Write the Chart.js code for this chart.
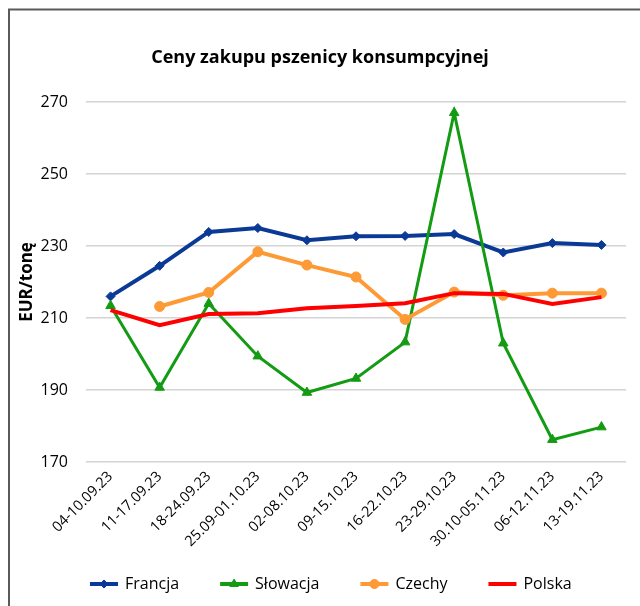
<!DOCTYPE html>
<html>
<head>
<meta charset="utf-8">
<script src="https://cdn.jsdelivr.net/npm/chart.js@4/dist/chart.umd.min.js"></script>
<style>
  html, body { margin: 0; padding: 0; background: #ffffff; }
  #wrap { position: relative; width: 640px; height: 606px; }
</style>
</head>
<body>
<div id="wrap"><canvas id="c" width="640" height="606"></canvas></div>
<script>
const chartTitle = 'Ceny zakupu pszenicy konsumpcyjnej';
const yAxisTitle = 'EUR/tonę';
const categories = ['04-10.09.23', '11-17.09.23', '18-24.09.23', '25.09-01.10.23', '02-08.10.23', '09-15.10.23', '16-22.10.23', '23-29.10.23', '30.10-05.11.23', '06-12.11.23', '13-19.11.23'];
const seriesNames = ['Francja', 'Słowacja', 'Czechy', 'Polska'];
const francja = [216.0, 224.5, 233.9, 235.0, 231.6, 232.7, 232.8, 233.3, 228.2, 230.8, 230.3];
const slowacja = [213.4, 190.7, 214.0, 199.4, 189.3, 193.2, 203.3, 267.0, 203.0, 176.2, 179.7];
const czechy = [null, 213.2, 217.1, 228.4, 224.7, 221.4, 209.6, 217.2, 216.3, 216.9, 216.9];
const polska = [212.2, 208.0, 211.1, 211.3, 212.7, 213.3, 214.1, 216.9, 216.7, 213.9, 215.8];
const yMin = 170, yMax = 270, yStep = 20;

const colors = ['#0b3a96', '#139b13', '#fd9a35', '#fe0000'];
const pointStyles = ['rectRot', 'triangle', 'circle', false];
const pointSizes = [4.5, 5.5, 5, 0];
const FONT = "'Open Sans', 'Noto Sans', sans-serif";

const frame = {
  id: 'frame',
  beforeDraw(chart) {
    const ctx = chart.ctx;
    ctx.save();
    ctx.fillStyle = '#ffffff';
    ctx.fillRect(0, 0, chart.width, chart.height);
    ctx.strokeStyle = '#5a5a5a';
    ctx.lineWidth = 2;
    ctx.beginPath();
    ctx.moveTo(9, chart.height);
    ctx.lineTo(9, 9.5);
    ctx.lineTo(chart.width, 9.5);
    ctx.stroke();
    ctx.restore();
  },
  afterDraw(chart) {
    const ctx = chart.ctx;
    ctx.save();
    // title
    ctx.fillStyle = '#000000';
    ctx.font = "bold 18px " + FONT;
    ctx.textAlign = 'center';
    ctx.textBaseline = 'middle';
    ctx.fillText(chartTitle, 320, 58);
    // legend
    ctx.font = "16px " + FONT;
    ctx.textAlign = 'left';
    let x = 90;
    const y = 584;
    chart.data.datasets.forEach((ds, i) => {
      ctx.strokeStyle = ds.borderColor;
      ctx.lineWidth = 4;
      ctx.lineCap = 'butt';
      ctx.beginPath();
      ctx.moveTo(x, y);
      ctx.lineTo(x + 28, y);
      ctx.stroke();
      if (ds.pointStyle) {
        ctx.fillStyle = ds.borderColor;
        ctx.strokeStyle = ds.borderColor;
        ctx.lineWidth = 1;
        Chart.helpers.drawPoint(ctx, {
          pointStyle: ds.pointStyle,
          radius: ds.pointRadius * 0.9,
          borderWidth: 1,
          rotation: 0
        }, x + 14, y);
      }
      ctx.fillStyle = '#000000';
      ctx.fillText(ds.label, x + 35, y);
      x += 35 + ctx.measureText(ds.label).width + 41;
    });
    ctx.restore();
  }
};

const seriesData = [francja, slowacja, czechy, polska];
const datasets = seriesNames.map((name, i) => ({
  label: name,
  data: seriesData[i],
  borderColor: colors[i],
  backgroundColor: colors[i],
  pointBackgroundColor: colors[i],
  pointBorderColor: colors[i],
  pointStyle: pointStyles[i],
  pointRadius: pointSizes[i],
  pointBorderWidth: 1,
  borderWidth: i === 1 ? 3 : 4,
  tension: 0,
  order: 4 - i,
  clip: false
}));

new Chart(document.getElementById('c'), {
  type: 'line',
  data: { labels: categories, datasets },
  plugins: [frame],
  options: {
    responsive: false,
    animation: false,
    devicePixelRatio: 1,
    layout: { padding: { top: 102, left: 0, right: 14, bottom: 0 } },
    plugins: {
      legend: { display: false },
      title: { display: false },
      tooltip: { enabled: false }
    },
    scales: {
      x: {
        offset: true,
        grid: { display: false, drawTicks: false },
        border: { display: false },
        ticks: {
          autoSkip: false,
          maxRotation: 45,
          minRotation: 45,
          padding: 6,
          color: '#000000',
          font: { family: FONT, size: 14.5 }
        },
        afterFit(scale) { scale.height = 144; }
      },
      y: {
        min: yMin,
        max: yMax,
        grid: { color: '#d4d4d4', lineWidth: 1.5, drawTicks: false },
        border: { display: false },
        ticks: {
          stepSize: yStep,
          padding: 18,
          color: '#000000',
          font: { family: FONT, size: 16 }
        },
        title: {
          display: true,
          text: yAxisTitle,
          color: '#000000',
          font: { family: FONT, size: 17, weight: 'bold' },
          padding: { top: 17, bottom: 0 }
        },
        afterFit(scale) { scale.width = 86; }
      }
    }
  }
});
</script>
</body>
</html>
